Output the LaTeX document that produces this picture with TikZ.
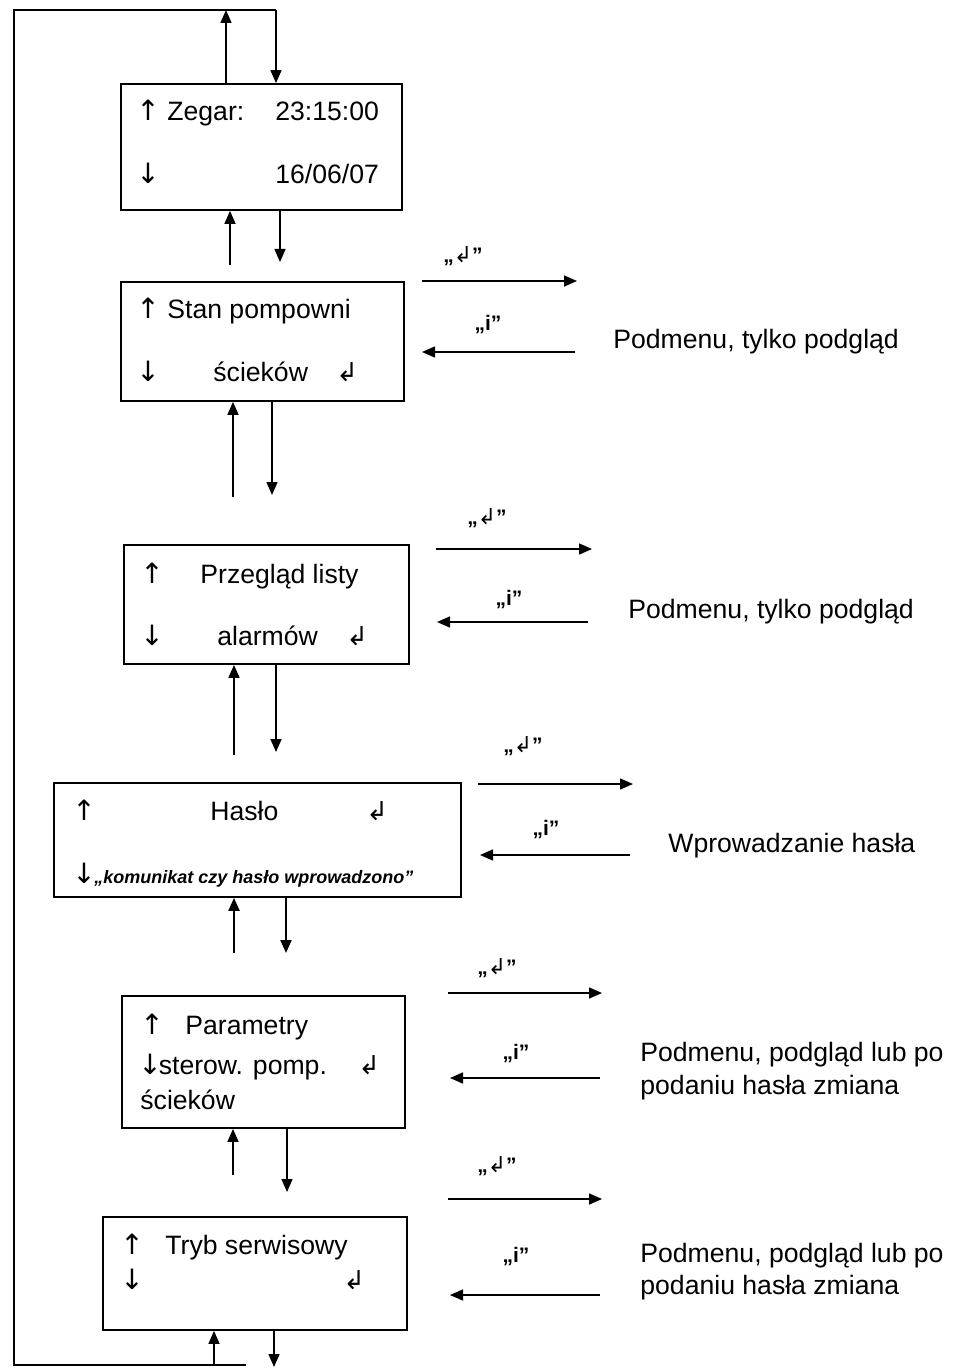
\documentclass[tikz,border=0pt]{standalone}
\usepackage{fontspec}
\setmainfont{Liberation Sans}
\newfontfamily\dejavu{DejaVu Sans}
\usetikzlibrary{arrows.meta}
\tikzset{
 box/.style={draw, line width=0.9pt, inner sep=0pt},
 txt/.style={anchor=base west, inner sep=0pt, font=\fontsize{13.3}{16}\selectfont},
 lab/.style={anchor=center, inner sep=0pt, font=\fontsize{10.5}{12}\selectfont\bfseries},
 small/.style={anchor=base west, inner sep=0pt, font=\fontsize{9}{11}\selectfont\bfseries\itshape},
 arr/.style={line width=0.75pt, -{Triangle[length=6.5pt,width=5.5pt]}},
 ln/.style={line width=0.75pt},
}
\newcommand{\ent}{{\dejavu\fontsize{13}{14}\selectfont ↲}}
\newcommand{\entl}{{\dejavu\fontsize{11}{12}\selectfont\mdseries ↲}}
\newcommand{\up}{{\dejavu\fontsize{14}{16}\selectfont ↑}}
\newcommand{\dn}{{\dejavu\fontsize{14}{16}\selectfont ↓}}
\begin{document}
\begin{tikzpicture}[x=0.5pt,y=-0.5pt]
\useasboundingbox (0,0) rectangle (952,1369);
% boxes
\node[box, minimum width=140.5pt, minimum height=63pt] (b1) at (261.5,147) {};
\node[box, minimum width=141.5pt, minimum height=59.5pt] (b2) at (262.5,341.5) {};
\node[box, minimum width=142.5pt, minimum height=59.5pt] (b3) at (266.5,604.5) {};
\node[box, minimum width=203.5pt, minimum height=57pt] (b4) at (257.5,840) {};
\node[box, minimum width=141.5pt, minimum height=66pt] (b5) at (263.5,1062) {};
\node[box, minimum width=152pt, minimum height=56.5pt] (b6) at (255,1273.5) {};
% box texts
\node[txt] (t1a) at (136,121) {\up};
\node[txt] (t1b) at (167,121) {Zegar:};
\node[txt] (t1c) at (275,121) {23:15:00};
\node[txt] (t1d) at (136,184) {\dn};
\node[txt] (t1e) at (275,184) {16/06/07};
\node[txt] (t2a) at (136,319) {\up};
\node[txt] (t2b) at (167,319) {Stan pompowni};
\node[txt] (t2c) at (136,381) {\dn};
\node[txt] (t2d) at (213,381) {ścieków};
\node[txt] (t2e) at (336,381) {\ent};
\node[txt] (t3a) at (140,583) {\up};
\node[txt] (t3b) at (200,583) {Przegląd listy};
\node[txt] (t3c) at (140,645) {\dn};
\node[txt] (t3d) at (217,645) {alarmów};
\node[txt] (t3e) at (346,645) {\ent};
\node[txt] (t4a) at (72,820) {\up};
\node[txt] (t4b) at (210,820) {Hasło};
\node[txt] (t4c) at (366,820) {\ent};
\node[txt] (t4d) at (72,883) {\dn};
\node[small] (t4e) at (94,883) {„komunikat czy hasło wprowadzono”};
\node[txt] (t5a) at (140,1034) {\up};
\node[txt] (t5b) at (185,1034) {Parametry};
\node[txt] (t5c) at (138,1074) {\dn\hspace{-1.5pt}sterow. pomp.};
\node[txt] (t5d) at (358,1074) {\ent};
\node[txt] (t5e) at (140,1109) {ścieków};
\node[txt] (t6a) at (120,1254) {\up};
\node[txt] (t6b) at (165,1254) {Tryb serwisowy};
\node[txt] (t6c) at (120,1289) {\dn};
\node[txt] (t6d) at (343,1289) {\ent};
% right texts
\node[txt] (s2) at (613,349) {Podmenu, tylko podgląd};
\node[txt] (s3) at (628,618) {Podmenu, tylko podgląd};
\node[txt] (s4) at (668,852) {Wprowadzanie hasła};
\node[txt] (s5a) at (640,1061) {Podmenu, podgląd lub po};
\node[txt] (s5b) at (640,1094) {podaniu hasła zmiana};
\node[txt] (s6a) at (640,1262) {Podmenu, podgląd lub po};
\node[txt] (s6b) at (640,1294) {podaniu hasła zmiana};
% arrow labels
\node[lab] (l2a) at (463,256) {„\entl”};
\node[lab] (l2b) at (488,325) {„i”};
\node[lab] (l3a) at (487,518) {„\entl”};
\node[lab] (l3b) at (509,600) {„i”};
\node[lab] (l4a) at (523,746) {„\entl”};
\node[lab] (l4b) at (546,830) {„i”};
\node[lab] (l5a) at (497,968) {„\entl”};
\node[lab] (l5b) at (516,1054) {„i”};
\node[lab] (l6a) at (497,1166) {„\entl”};
\node[lab] (l6b) at (516,1257) {„i”};
% loop
\coordinate (tl) at (14,10);
\coordinate (tr) at (276,10);
\coordinate (bl) at (14,1365);
\coordinate (br) at (246,1365);
\draw[ln] (br) -- (bl) -- (tl) -- (tr);
\draw[arr] (tr) -- (b1.north -| tr);
\draw[arr] (b1.north -| 226,0) -- (tl -| 226,0);
% between boxes
\coordinate (u12) at (230,265); \coordinate (d12) at (280,262);
\draw[arr] (u12) -- (b1.south -| u12);
\draw[arr] (b1.south -| d12) -- (d12);
\coordinate (u23) at (233,497); \coordinate (d23) at (272,495);
\draw[arr] (u23) -- (b2.south -| u23);
\draw[arr] (b2.south -| d23) -- (d23);
\coordinate (u34) at (234,755); \coordinate (d34) at (276,752);
\draw[arr] (u34) -- (b3.south -| u34);
\draw[arr] (b3.south -| d34) -- (d34);
\coordinate (u45) at (234,953); \coordinate (d45) at (286,953);
\draw[arr, line width=1.1pt] (u45) -- (b4.south -| u45);
\draw[arr, line width=1.1pt] (b4.south -| d45) -- (d45);
\coordinate (u56) at (233,1175); \coordinate (d56) at (287,1192);
\draw[arr] (u56) -- (b5.south -| u56);
\draw[arr] (b5.south -| d56) -- (d56);
\coordinate (d6e) at (274,1367);
\draw[arr] (bl -| 214,0) -- (b6.south -| 214,0);
\draw[arr] (b6.south -| d6e) -- (d6e);
% right arrows
\coordinate (r2a) at (422,281); \coordinate (r2b) at (577,281);
\coordinate (r2c) at (575,352); \coordinate (r2d) at (422,352);
\draw[arr] (r2a) -- (r2b); \draw[arr] (r2c) -- (r2d);
\coordinate (r3a) at (436,549); \coordinate (r3b) at (592,549);
\coordinate (r3c) at (588,622); \coordinate (r3d) at (437,622);
\draw[arr] (r3a) -- (r3b); \draw[arr] (r3c) -- (r3d);
\coordinate (r4a) at (478,784); \coordinate (r4b) at (633,784);
\coordinate (r4c) at (630,855); \coordinate (r4d) at (480,855);
\draw[arr] (r4a) -- (r4b); \draw[arr] (r4c) -- (r4d);
\coordinate (r5a) at (448,993); \coordinate (r5b) at (602,993);
\coordinate (r5c) at (600,1078); \coordinate (r5d) at (450,1078);
\draw[arr] (r5a) -- (r5b); \draw[arr] (r5c) -- (r5d);
\coordinate (r6a) at (448,1199); \coordinate (r6b) at (602,1199);
\coordinate (r6c) at (600,1295); \coordinate (r6d) at (450,1295);
\draw[arr] (r6a) -- (r6b); \draw[arr] (r6c) -- (r6d);
\end{tikzpicture}
\end{document}
